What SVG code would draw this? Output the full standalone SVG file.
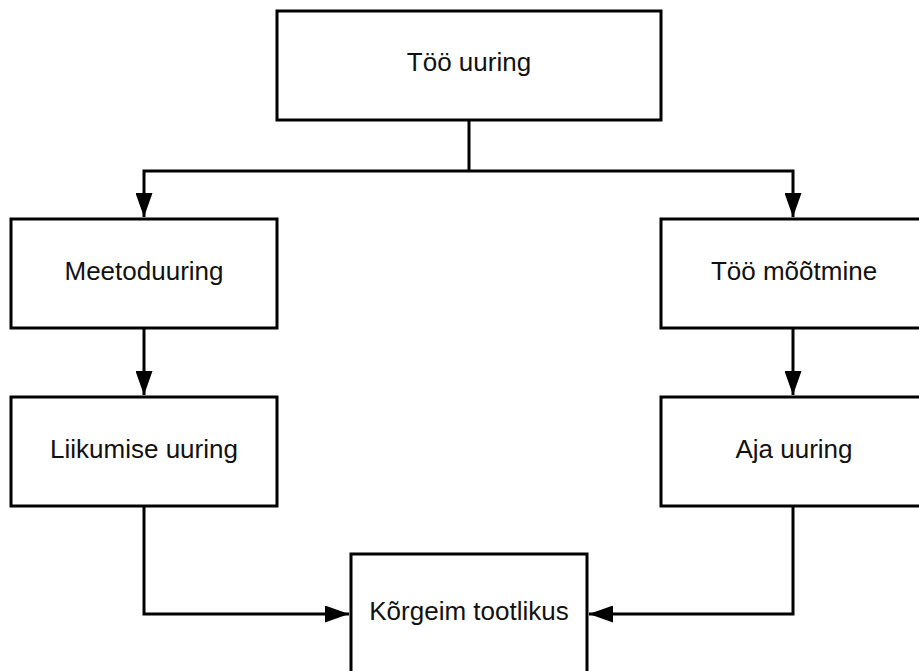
<svg xmlns="http://www.w3.org/2000/svg" width="919" height="671" viewBox="0 0 919 671">
  <defs>
    <marker id="arrow" viewBox="0 0 24 17" refX="24" refY="8.5" markerWidth="24" markerHeight="17" markerUnits="userSpaceOnUse" orient="auto">
      <path d="M0,0 L24,8.5 L0,17 Z" fill="#000"/>
    </marker>
    <style>
      .box { fill: #fff; stroke: #000; stroke-width: 3; }
      .label { font-family: "Liberation Sans", Arial, sans-serif; font-size: 26px; fill: #111; text-anchor: middle; }
      .edge { fill: none; stroke: #000; stroke-width: 3; }
    </style>
  </defs>
  <rect width="919" height="671" fill="#fff"/>

  <g id="connectors">
    <path class="edge" d="M469,120 V171"/>
    <path class="edge" d="M469,171 H144 V217" marker-end="url(#arrow)"/>
    <path class="edge" d="M469,171 H793 V217" marker-end="url(#arrow)"/>
    <path class="edge" d="M144,328 V395" marker-end="url(#arrow)"/>
    <path class="edge" d="M793,328 V395" marker-end="url(#arrow)"/>
    <path class="edge" d="M144,506 V614 H349" marker-end="url(#arrow)"/>
    <path class="edge" d="M793,506 V614 H589" marker-end="url(#arrow)"/>
  </g>

  <g id="too-uuring">
    <rect class="box" x="277" y="11" width="384" height="109"/>
    <text class="label" x="469" y="71">Töö uuring</text>
  </g>
  <g id="meetoduuring">
    <rect class="box" x="11" y="219" width="266" height="109"/>
    <text class="label" x="144" y="280">Meetoduuring</text>
  </g>
  <g id="too-mootmine">
    <rect class="box" x="661" y="219" width="266" height="109"/>
    <text class="label" x="794" y="280">Töö mõõtmine</text>
  </g>
  <g id="liikumise-uuring">
    <rect class="box" x="11" y="397" width="266" height="109"/>
    <text class="label" x="144" y="458">Liikumise uuring</text>
  </g>
  <g id="aja-uuring">
    <rect class="box" x="661" y="397" width="266" height="109"/>
    <text class="label" x="794" y="458">Aja uuring</text>
  </g>
  <g id="korgeim-tootlikus">
    <rect class="box" x="351" y="554" width="236" height="130"/>
    <text class="label" x="469" y="620">Kõrgeim tootlikus</text>
  </g>
</svg>
